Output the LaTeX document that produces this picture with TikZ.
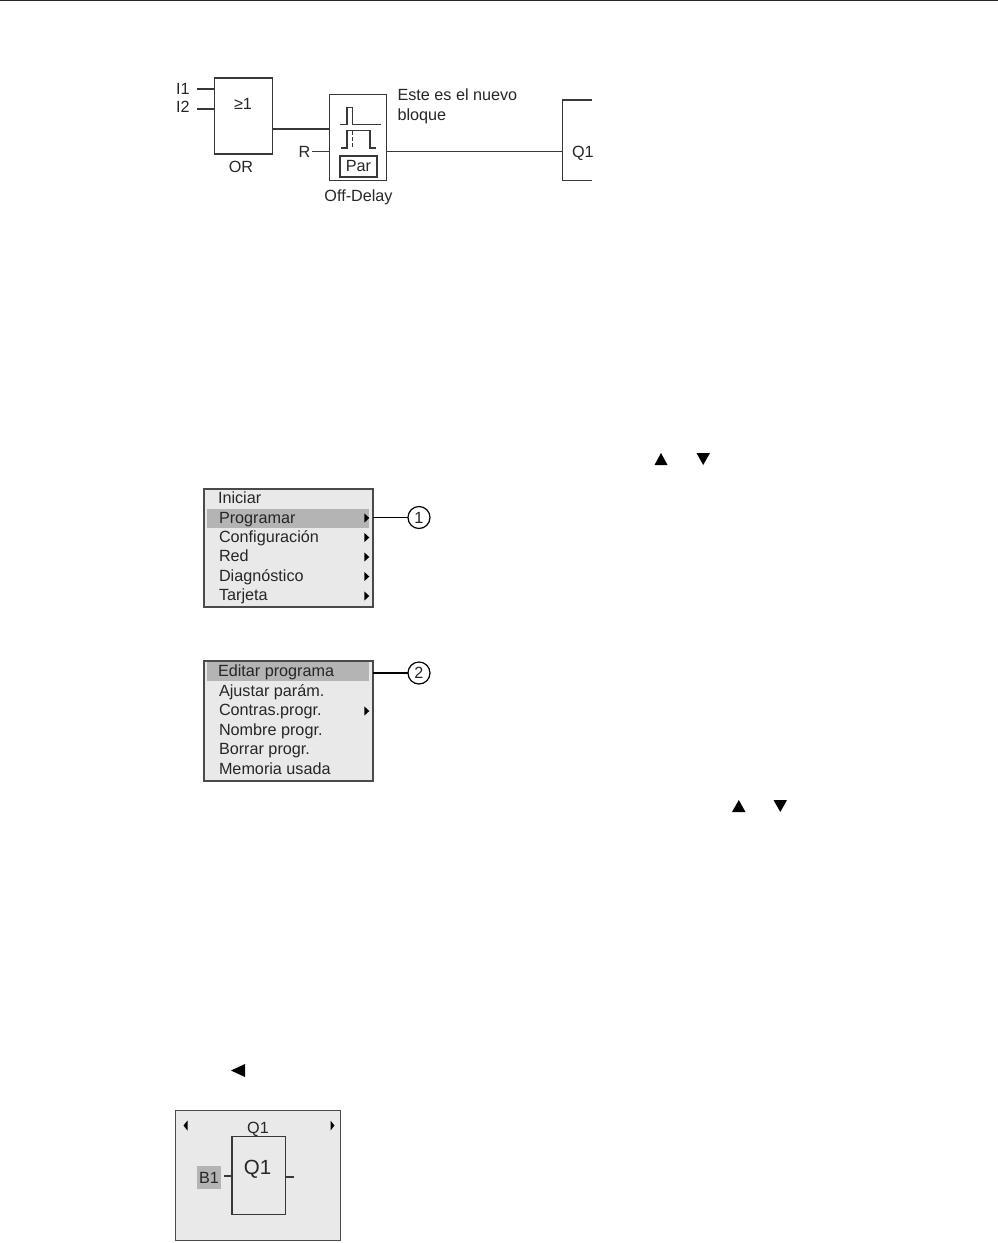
\documentclass[tikz,border=0pt]{standalone}
\usepackage{fontspec}
\setmainfont{Liberation Sans}
\usetikzlibrary{calc}
\definecolor{panelgray}{HTML}{E9E9E9}
\definecolor{hilite}{HTML}{B4B4B4}
\definecolor{wire}{HTML}{383838}
\definecolor{edge}{HTML}{4A4A4A}
\definecolor{txt}{HTML}{262626}
\tikzset{
  wireline/.style={draw=wire,line width=1.2pt},
  blockbox/.style={draw=wire,line width=1.2pt,fill=white,minimum width=#1,inner sep=0pt,outer sep=0pt},
  panel/.style={draw=edge,line width=1.2pt,fill=panelgray,inner sep=0pt,outer sep=0pt},
  hibar/.style={fill=hilite,inner sep=0pt,outer sep=0pt},
  lab/.style={font=\fontsize{16.2}{18}\selectfont,text=txt,inner sep=0pt,outer sep=0pt,anchor=base west},
  labc/.style={font=\fontsize{16.2}{18}\selectfont,text=txt,inner sep=0pt,outer sep=0pt,anchor=base},
  marker/.style={fill=black,draw=none},
  callout/.style={draw=black,line width=1.2pt,fill=white,circle,minimum size=22pt,inner sep=0pt,outer sep=0pt,font=\fontsize{16.2}{18}\selectfont,text=txt},
}
\newcommand{\subarrow}[2]{\fill[black] (#1-2.2,#2-4.6) -- (#1+2.8,#2) -- (#1-2.2,#2+4.6) -- cycle;}
\begin{document}
\begin{tikzpicture}[x=1pt,y=-1pt]
\useasboundingbox (0,0) rectangle (998,1243);
\draw[draw=black!85,line width=1.2pt] (0,0.6) -- (998,0.6);

% top diagram
\node[blockbox=57.5pt,minimum height=76pt] (or) at (243.5,116) {};
\node[labc] (orsym) at (243,109) {≥1};
\node[labc] (orlab) at (241,172) {OR};
\node[lab] (i1) at (176,94.5) {I1};
\node[lab] (i2) at (176,112) {I2};
\coordinate (i1end) at (197,89);
\coordinate (i2end) at (197,109);
\draw[wireline] (i1end) -- (i1end -| or.west);
\draw[wireline] (i2end) -- (i2end -| or.west);

\node[blockbox=57pt,minimum height=85.5pt] (delay) at (358.3,137.5) {};
\node[draw=wire,line width=1.2pt,minimum width=37pt,minimum height=21pt,inner sep=0pt,outer sep=0pt,font=\fontsize{16.2}{18}\selectfont,text=txt] (par) at (358.5,166.5) {Par};
\draw[wireline] (340,124.7) -- (347,124.7) -- (347,107.7) -- (352.7,107.7) -- (352.7,124.7) -- (381,124.7);
\draw[wireline] (341,148) -- (347,148) -- (347,130.7) -- (370,130.7) -- (370,148) -- (375.7,148);
\draw[draw=wire,line width=1.1pt,dash pattern=on 3.5pt off 2.5pt] (352.3,131) -- (352.3,148);
\node[labc] (dlab) at (358.5,201.5) {Off-Delay};
\node[lab] (rlab) at (298.5,157.5) {R};
\coordinate (rend) at (312,151.7);
\draw[wireline] (rend) -- (rend -| delay.west);
\draw[wireline] (or.east |- 0,129) -- (delay.west |- 0,129);
\node[lab] (note1) at (397.5,100.5) {Este es el nuevo};
\node[lab] (note2) at (397.5,120) {bloque};

\coordinate (qtr) at (592,100);
\coordinate (qtl) at (562.7,100);
\coordinate (qbl) at (562.7,180.3);
\coordinate (qbr) at (592,180.3);
\coordinate (qin) at (562.7,151.7);
\draw[wireline] (qtr) -- (qtl) -- (qbl) -- (qbr);
\draw[wireline] (delay.east |- qin) -- (qin);
\node[lab] (q1out) at (572,157.5) {Q1};

% triangles in text
\fill[marker] (654.5,465) -- (661,453) -- (667.5,465) -- cycle;
\fill[marker] (696.5,453) -- (710,453) -- (703.2,465) -- cycle;
\fill[marker] (732,812) -- (738.8,800) -- (745.5,812) -- cycle;
\fill[marker] (773.5,800) -- (787,800) -- (780.3,812) -- cycle;
\fill[marker] (231,1070.5) -- (245,1064) -- (245,1077) -- cycle;

% menu 1
\node[panel,minimum width=169pt,minimum height=118pt] (m1) at (288.5,548) {};
\node[hibar,minimum width=162pt,minimum height=19pt] (m1bar) at (288,518.5) {};
\node[lab] (a1) at (218,503.5) {Iniciar};
\node[lab] (a2) at (219,523.5) {Programar};
\node[lab] (a3) at (219,542.5) {Configuración};
\node[lab] (a4) at (219,561.5) {Red};
\node[lab] (a5) at (219,581.5) {Diagnóstico};
\node[lab] (a6) at (219,600.5) {Tarjeta};
\subarrow{366.5}{518}
\subarrow{366.5}{537.5}
\subarrow{366.5}{557}
\subarrow{366.5}{576.5}
\subarrow{366.5}{596}
\node[callout] (c1) at (419,517.5) {1};
\draw[draw=black,line width=1.2pt] (m1.east |- c1) -- (c1);

% menu 2
\node[panel,minimum width=169pt,minimum height=120pt] (m2) at (288.5,721) {};
\node[hibar,minimum width=162pt,minimum height=19pt] (m2bar) at (288,671.5) {};
\node[lab] (b1) at (218,676.5) {Editar programa};
\node[lab] (b2) at (219,696.5) {Ajustar parám.};
\node[lab] (b3) at (219,715.5) {Contras.progr.};
\node[lab] (b4) at (219,735.5) {Nombre progr.};
\node[lab] (b5) at (219,754.5) {Borrar progr.};
\node[lab] (b6) at (219,774.5) {Memoria usada};
\subarrow{366.5}{711}
\node[callout] (c2) at (419,673) {2};
\draw[draw=black,line width=1.2pt] (m2.east |- c2) -- (c2);

% bottom display
\node[panel,minimum width=164.5pt,minimum height=129.5pt] (disp) at (258,1175.5) {};
\node[blockbox=53.5pt,minimum height=78pt,fill=none] (qblock) at (258.8,1175.7) {};
\node[labc] (qtop) at (258,1133) {Q1};
\node[font=\fontsize{20.5}{22}\selectfont,text=txt,inner sep=0pt,anchor=base] (qin2) at (257.5,1174) {Q1};
\node[hibar,minimum width=24.5pt,minimum height=22.5pt,font=\fontsize{16.2}{18}\selectfont,text=txt] (bb) at (209,1177.5) {B1};
\coordinate (lstub) at (224,1176);
\coordinate (rstub) at (294,1177);
\draw[wireline] (lstub) -- (lstub -| qblock.west);
\draw[wireline] (qblock.east |- rstub) -- (rstub);
\fill[black] (183.5,1125.5) -- (187.5,1120.5) -- (187.5,1130.5) -- cycle;
\fill[black] (334.5,1125.5) -- (330.5,1120.5) -- (330.5,1130.5) -- cycle;
\end{tikzpicture}
\end{document}
